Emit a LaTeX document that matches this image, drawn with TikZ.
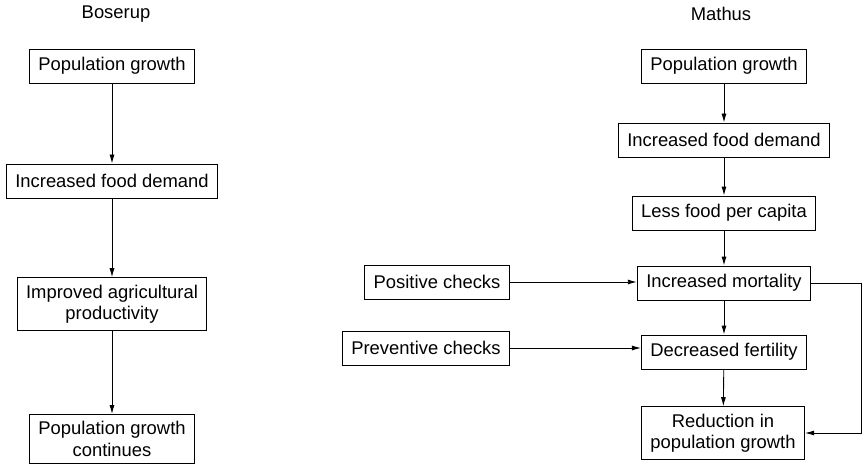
\documentclass[tikz,border=0pt]{standalone}
\usepackage{fontspec}
\setmainfont{Liberation Sans}
\usetikzlibrary{arrows.meta}
\begin{document}
\begin{tikzpicture}[
  x=1pt, y=-1pt,
  line width=0.9pt,
  every node/.style = {font=\fontsize{18.4}{21.5}\selectfont},
  box/.style = {shape=rectangle, draw, align=center, inner xsep=9pt,
                inner ysep=7pt, minimum height=34pt},
  link/.style = {-{Latex[length=9pt,width=5pt]}}
]
  \useasboundingbox (0,0) rectangle (862,468);
  % Boserup
  \node (btitle) at (116,14) {Boserup};
  \node[box] (bpop)  at (112,66)  {Population growth};
  \node[box] (bfood) at (112,181) {Increased food demand};
  \node[box] (bagri) at (112,304) {Improved agricultural\\productivity};
  \node[box] (bcont) at (112,439) {Population growth\\continues};
  \draw[link] (bpop) -- (bfood);
  \draw[link] (bfood) -- (bagri);
  \draw[link] (bagri) -- (bcont);
  % Mathus
  \node (mtitle) at (721,14) {Mathus};
  \node[box] (mpop)  at (724,66)  {Population growth};
  \node[box] (mfood) at (724,140) {Increased food demand};
  \node[box] (mless) at (724,213) {Less food per capita};
  \node[box] (mmort) at (724,283) {Increased mortality};
  \node[box] (mfert) at (724,352) {Decreased fertility};
  \node[box] (mred)  at (723,433) {Reduction in\\population growth};
  \node[box] (pos)   at (437,282) {Positive checks};
  \node[box] (prev)  at (426,348) {Preventive checks};
  \coordinate (loop) at (861,283);
  \draw[link] (mpop) -- (mfood);
  \draw[link] (mfood) -- (mless);
  \draw[link] (mless) -- (mmort);
  \draw[link] (mmort) -- (mfert);
  \draw[link] (mfert) -- (mred);
  \draw[link] (pos) -- (pos -| mmort.west);
  \draw[link] (prev) -- (prev -| mfert.west);
  \draw[link] (mmort.east) -- (loop) |- (mred.east);
\end{tikzpicture}
\end{document}
